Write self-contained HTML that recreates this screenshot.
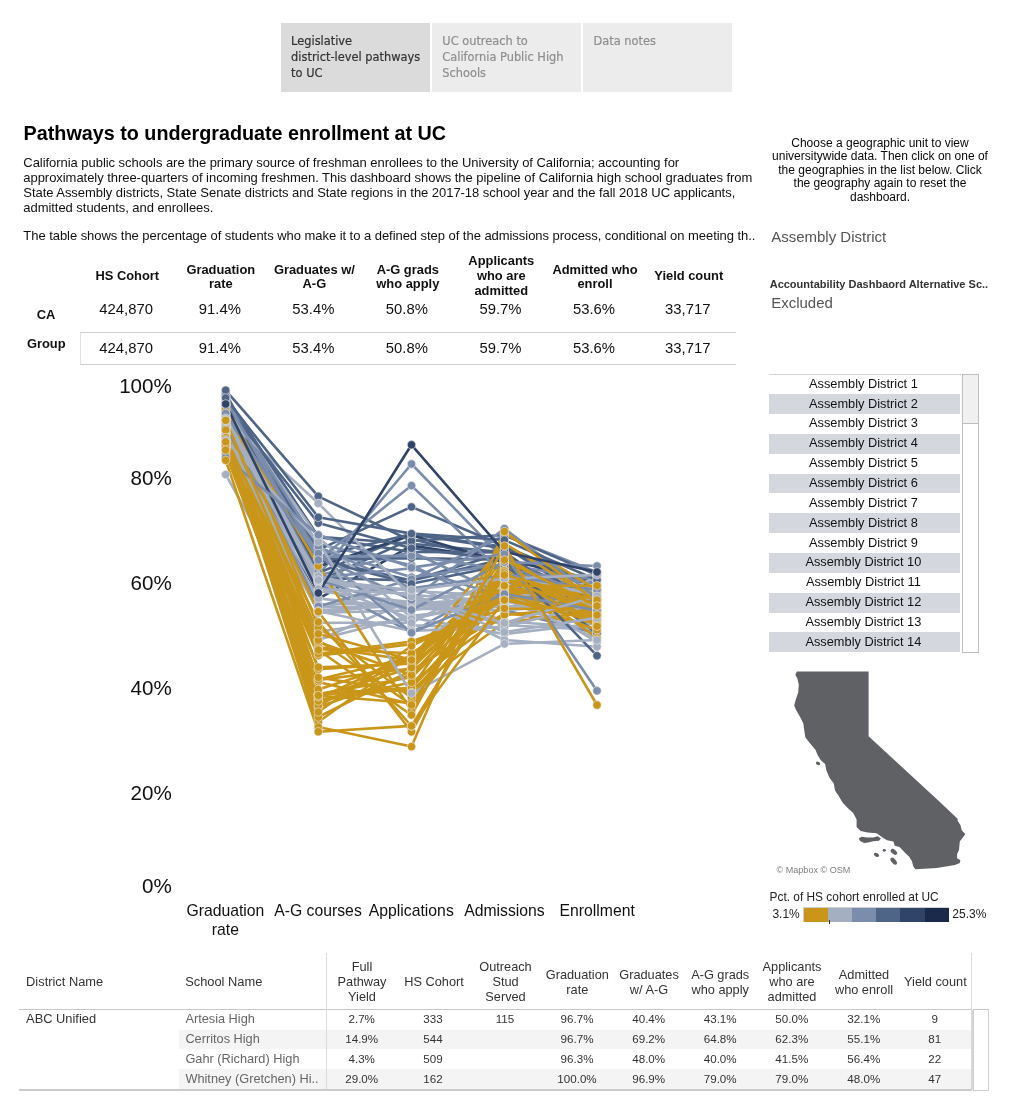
<!DOCTYPE html><html><head><meta charset="utf-8"><title>Pathways to undergraduate enrollment at UC</title><style>
html,body{margin:0;padding:0;background:#fff}
body{width:1011px;height:1116px;position:relative;overflow:hidden;font-family:"Liberation Sans",sans-serif;color:#000}
.a{position:absolute;white-space:nowrap}
</style></head><body>
<div class="a" style="left:281.30px;top:22.80px;width:148.40px;height:69.20px;background:#dbdbdb;"></div>
<div class="a" style="left:432.20px;top:22.80px;width:148.60px;height:69.20px;background:#ececec;"></div>
<div class="a" style="left:583.20px;top:22.80px;width:148.60px;height:69.20px;background:#ececec;"></div>
<div class="a" style="top:33.06px;font-size:11.4px;line-height:16px;color:#333;font-family:'DejaVu Sans','Liberation Sans',sans-serif;left:291.10px;-webkit-text-stroke:0.2px #333;">Legislative</div>
<div class="a" style="top:49.06px;font-size:11.4px;line-height:16px;color:#333;font-family:'DejaVu Sans','Liberation Sans',sans-serif;left:291.10px;-webkit-text-stroke:0.2px #333;">district-level pathways</div>
<div class="a" style="top:65.06px;font-size:11.4px;line-height:16px;color:#333;font-family:'DejaVu Sans','Liberation Sans',sans-serif;left:291.10px;-webkit-text-stroke:0.2px #333;">to UC</div>
<div class="a" style="top:33.06px;font-size:11.4px;line-height:16px;color:#8e8e8e;font-family:'DejaVu Sans','Liberation Sans',sans-serif;left:442.30px;-webkit-text-stroke:0.2px #8e8e8e;">UC outreach to</div>
<div class="a" style="top:49.06px;font-size:11.4px;line-height:16px;color:#8e8e8e;font-family:'DejaVu Sans','Liberation Sans',sans-serif;left:442.30px;-webkit-text-stroke:0.2px #8e8e8e;">California Public High</div>
<div class="a" style="top:65.06px;font-size:11.4px;line-height:16px;color:#8e8e8e;font-family:'DejaVu Sans','Liberation Sans',sans-serif;left:442.30px;-webkit-text-stroke:0.2px #8e8e8e;">Schools</div>
<div class="a" style="top:33.06px;font-size:11.4px;line-height:16px;color:#8e8e8e;font-family:'DejaVu Sans','Liberation Sans',sans-serif;left:593.50px;-webkit-text-stroke:0.2px #8e8e8e;">Data notes</div>
<div class="a" style="top:120.86px;font-size:19.75px;line-height:24px;color:#000;font-weight:bold;left:23.60px;">Pathways to undergraduate enrollment at UC</div>
<div class="a" style="top:154.80px;font-size:13px;line-height:15px;color:#111;letter-spacing:-0.045px;left:23.30px;">California public schools are the primary source of freshman enrollees to the University of California; accounting for</div>
<div class="a" style="top:169.80px;font-size:13px;line-height:15px;color:#111;letter-spacing:-0.045px;left:23.30px;">approximately three-quarters of incoming freshmen. This dashboard shows the pipeline of California high school graduates from</div>
<div class="a" style="top:184.80px;font-size:13px;line-height:15px;color:#111;letter-spacing:-0.045px;left:23.30px;">State Assembly districts, State Senate districts and State regions in the 2017-18 school year and the fall 2018 UC applicants,</div>
<div class="a" style="top:199.80px;font-size:13px;line-height:15px;color:#111;letter-spacing:-0.045px;left:23.30px;">admitted students, and enrollees.</div>
<div class="a" style="top:227.60px;font-size:13px;line-height:15px;color:#111;letter-spacing:-0.045px;left:23.30px;">The table shows the percentage of students who make it to a defined step of the admissions process, conditional on meeting th..</div>
<div class="a" style="top:135.54px;font-size:12px;line-height:14px;color:#080808;left:730.00px;width:300px;text-align:center;">Choose a geographic unit to view</div>
<div class="a" style="top:149.04px;font-size:12px;line-height:14px;color:#080808;left:730.00px;width:300px;text-align:center;">universitywide data. Then click on one of</div>
<div class="a" style="top:162.54px;font-size:12px;line-height:14px;color:#080808;left:730.00px;width:300px;text-align:center;">the geographies in the list below. Click</div>
<div class="a" style="top:176.04px;font-size:12px;line-height:14px;color:#080808;left:730.00px;width:300px;text-align:center;">the geography again to reset the</div>
<div class="a" style="top:189.54px;font-size:12px;line-height:14px;color:#080808;left:730.00px;width:300px;text-align:center;">dashboard.</div>
<div class="a" style="top:228.10px;font-size:15px;line-height:18px;color:#555;left:771.20px;">Assembly District</div>
<div class="a" style="top:277.19px;font-size:11px;line-height:14px;color:#333;font-weight:bold;left:769.70px;">Accountability Dashbaord Alternative Sc..</div>
<div class="a" style="top:294.10px;font-size:15px;line-height:18px;color:#555;left:771.20px;">Excluded</div>
<div class="a" style="top:268.43px;font-size:12.9px;line-height:15px;color:#111;font-weight:bold;left:57.30px;width:140px;text-align:center;">HS Cohort</div>
<div class="a" style="top:261.53px;font-size:12.9px;line-height:15px;color:#111;font-weight:bold;left:150.80px;width:140px;text-align:center;">Graduation</div>
<div class="a" style="top:276.38px;font-size:12.9px;line-height:15px;color:#111;font-weight:bold;left:150.80px;width:140px;text-align:center;">rate</div>
<div class="a" style="top:261.53px;font-size:12.9px;line-height:15px;color:#111;font-weight:bold;left:244.40px;width:140px;text-align:center;">Graduates w/</div>
<div class="a" style="top:276.38px;font-size:12.9px;line-height:15px;color:#111;font-weight:bold;left:244.40px;width:140px;text-align:center;">A-G</div>
<div class="a" style="top:261.53px;font-size:12.9px;line-height:15px;color:#111;font-weight:bold;left:337.80px;width:140px;text-align:center;">A-G grads</div>
<div class="a" style="top:276.38px;font-size:12.9px;line-height:15px;color:#111;font-weight:bold;left:337.80px;width:140px;text-align:center;">who apply</div>
<div class="a" style="top:252.83px;font-size:12.9px;line-height:15px;color:#111;font-weight:bold;left:431.30px;width:140px;text-align:center;">Applicants</div>
<div class="a" style="top:267.68px;font-size:12.9px;line-height:15px;color:#111;font-weight:bold;left:431.30px;width:140px;text-align:center;">who are</div>
<div class="a" style="top:282.53px;font-size:12.9px;line-height:15px;color:#111;font-weight:bold;left:431.30px;width:140px;text-align:center;">admitted</div>
<div class="a" style="top:261.53px;font-size:12.9px;line-height:15px;color:#111;font-weight:bold;left:525.00px;width:140px;text-align:center;">Admitted who</div>
<div class="a" style="top:276.38px;font-size:12.9px;line-height:15px;color:#111;font-weight:bold;left:525.00px;width:140px;text-align:center;">enroll</div>
<div class="a" style="top:268.43px;font-size:12.9px;line-height:15px;color:#111;font-weight:bold;left:618.80px;width:140px;text-align:center;">Yield count</div>
<div class="a" style="top:299.65px;font-size:14.85px;line-height:18px;color:#111;left:66.20px;width:120px;text-align:center;">424,870</div>
<div class="a" style="top:338.95px;font-size:14.85px;line-height:18px;color:#111;left:66.20px;width:120px;text-align:center;">424,870</div>
<div class="a" style="top:299.65px;font-size:14.85px;line-height:18px;color:#111;left:159.80px;width:120px;text-align:center;">91.4%</div>
<div class="a" style="top:338.95px;font-size:14.85px;line-height:18px;color:#111;left:159.80px;width:120px;text-align:center;">91.4%</div>
<div class="a" style="top:299.65px;font-size:14.85px;line-height:18px;color:#111;left:253.30px;width:120px;text-align:center;">53.4%</div>
<div class="a" style="top:338.95px;font-size:14.85px;line-height:18px;color:#111;left:253.30px;width:120px;text-align:center;">53.4%</div>
<div class="a" style="top:299.65px;font-size:14.85px;line-height:18px;color:#111;left:346.90px;width:120px;text-align:center;">50.8%</div>
<div class="a" style="top:338.95px;font-size:14.85px;line-height:18px;color:#111;left:346.90px;width:120px;text-align:center;">50.8%</div>
<div class="a" style="top:299.65px;font-size:14.85px;line-height:18px;color:#111;left:440.50px;width:120px;text-align:center;">59.7%</div>
<div class="a" style="top:338.95px;font-size:14.85px;line-height:18px;color:#111;left:440.50px;width:120px;text-align:center;">59.7%</div>
<div class="a" style="top:299.65px;font-size:14.85px;line-height:18px;color:#111;left:534.00px;width:120px;text-align:center;">53.6%</div>
<div class="a" style="top:338.95px;font-size:14.85px;line-height:18px;color:#111;left:534.00px;width:120px;text-align:center;">53.6%</div>
<div class="a" style="top:299.65px;font-size:14.85px;line-height:18px;color:#111;left:627.80px;width:120px;text-align:center;">33,717</div>
<div class="a" style="top:338.95px;font-size:14.85px;line-height:18px;color:#111;left:627.80px;width:120px;text-align:center;">33,717</div>
<div class="a" style="top:307.23px;font-size:12.9px;line-height:15px;color:#111;font-weight:bold;left:6.00px;width:80px;text-align:center;">CA</div>
<div class="a" style="top:336.33px;font-size:12.9px;line-height:15px;color:#111;font-weight:bold;left:6.30px;width:80px;text-align:center;">Group</div>
<div class="a" style="left:80.00px;top:332.00px;width:656.00px;height:33.00px;border:1px solid #cfcfcf;border-left-color:#e2e2e2;border-right:none;box-sizing:border-box;"></div>
<svg class="a" style="left:0;top:0" width="760" height="960" viewBox="0 0 760 960"><g fill="none" stroke-width="2.6" stroke-linejoin="round">
<polyline points="225.7,474.6 318.3,640.0 411.5,600.0 504.4,625.0 597.0,630.0" stroke="#A5AFC2"/>
<polyline points="225.7,395.2 318.3,556.5 411.5,533.9 504.4,546.7 597.0,604.9" stroke="#4F6588"/>
<polyline points="225.7,426.5 318.3,581.2 411.5,539.1 504.4,561.7 597.0,615.1" stroke="#4F6588"/>
<polyline points="225.7,422.4 318.3,598.8 411.5,545.6 504.4,559.7 597.0,580.0" stroke="#2F4468"/>
<polyline points="225.7,399.0 318.3,577.9 411.5,580.5 504.4,559.0 597.0,597.1" stroke="#4F6588"/>
<polyline points="225.7,413.2 318.3,559.3 411.5,580.4 504.4,552.4 597.0,633.9" stroke="#4F6588"/>
<polyline points="225.7,397.4 318.3,536.7 411.5,543.7 504.4,552.3 597.0,615.0" stroke="#4F6588"/>
<polyline points="225.7,424.7 318.3,548.2 411.5,577.3 504.4,564.2 597.0,580.3" stroke="#7B8DAC"/>
<polyline points="225.7,395.9 318.3,536.9 411.5,552.0 504.4,552.4 597.0,616.9" stroke="#4F6588"/>
<polyline points="225.7,418.9 318.3,612.7 411.5,610.4 504.4,596.4 597.0,599.9" stroke="#A5AFC2"/>
<polyline points="225.7,405.0 318.3,544.1 411.5,565.2 504.4,609.9 597.0,633.5" stroke="#7B8DAC"/>
<polyline points="225.7,404.2 318.3,639.5 411.5,615.9 504.4,606.0 597.0,608.7" stroke="#A5AFC2"/>
<polyline points="225.7,402.3 318.3,613.1 411.5,601.0 504.4,589.6 597.0,589.3" stroke="#A5AFC2"/>
<polyline points="225.7,433.7 318.3,583.5 411.5,632.4 504.4,579.9 597.0,626.4" stroke="#7B8DAC"/>
<polyline points="225.7,440.3 318.3,591.1 411.5,602.4 504.4,585.5 597.0,642.1" stroke="#A5AFC2"/>
<polyline points="225.7,415.0 318.3,575.0 411.5,464.0 504.4,560.0 597.0,600.0" stroke="#7B8DAC"/>
<polyline points="225.7,392.7 318.3,573.0 411.5,534.3 504.4,548.5 597.0,589.2" stroke="#4F6588"/>
<polyline points="225.7,410.4 318.3,566.5 411.5,535.2 504.4,562.6 597.0,602.4" stroke="#2F4468"/>
<polyline points="225.7,396.3 318.3,549.9 411.5,506.9 504.4,546.3 597.0,585.0" stroke="#4F6588"/>
<polyline points="225.7,448.7 318.3,694.0 411.5,687.8 504.4,556.1 597.0,612.6" stroke="#C9961A"/>
<polyline points="225.7,428.4 318.3,610.7 411.5,602.6 504.4,603.3 597.0,590.5" stroke="#A5AFC2"/>
<polyline points="225.7,436.9 318.3,611.8 411.5,604.2 504.4,600.7 597.0,586.2" stroke="#A5AFC2"/>
<polyline points="225.7,442.7 318.3,607.2 411.5,606.6 504.4,599.5 597.0,604.7" stroke="#A5AFC2"/>
<polyline points="225.7,404.9 318.3,575.4 411.5,551.7 504.4,595.3 597.0,575.0" stroke="#7B8DAC"/>
<polyline points="225.7,414.4 318.3,682.0 411.5,704.1 504.4,592.3 597.0,615.3" stroke="#C9961A"/>
<polyline points="225.7,434.1 318.3,608.6 411.5,586.3 504.4,621.3 597.0,628.1" stroke="#A5AFC2"/>
<polyline points="225.7,450.5 318.3,679.4 411.5,657.0 504.4,571.1 597.0,618.9" stroke="#C9961A"/>
<polyline points="225.7,426.8 318.3,559.1 411.5,558.1 504.4,559.8 597.0,616.5" stroke="#4F6588"/>
<polyline points="225.7,421.8 318.3,556.6 411.5,555.9 504.4,569.2 597.0,583.6" stroke="#7B8DAC"/>
<polyline points="225.7,428.0 318.3,707.1 411.5,674.5 504.4,577.7 597.0,615.1" stroke="#C9961A"/>
<polyline points="225.7,435.0 318.3,722.0 411.5,655.0 504.4,590.0 597.0,612.0" stroke="#C9961A"/>
<polyline points="225.7,427.3 318.3,717.0 411.5,670.3 504.4,613.4 597.0,623.2" stroke="#C9961A"/>
<polyline points="225.7,447.0 318.3,655.6 411.5,644.1 504.4,598.2 597.0,618.4" stroke="#C9961A"/>
<polyline points="225.7,443.9 318.3,694.4 411.5,689.8 504.4,622.5 597.0,611.4" stroke="#C9961A"/>
<polyline points="225.7,426.5 318.3,699.6 411.5,688.0 504.4,588.7 597.0,593.4" stroke="#C9961A"/>
<polyline points="225.7,439.5 318.3,694.1 411.5,677.2 504.4,588.0 597.0,606.9" stroke="#C9961A"/>
<polyline points="225.7,441.6 318.3,631.7 411.5,618.4 504.4,597.8 597.0,600.3" stroke="#A5AFC2"/>
<polyline points="225.7,420.2 318.3,669.3 411.5,663.2 504.4,570.0 597.0,605.7" stroke="#C9961A"/>
<polyline points="225.7,441.4 318.3,604.3 411.5,603.7 504.4,597.2 597.0,608.7" stroke="#A5AFC2"/>
<polyline points="225.7,405.8 318.3,537.6 411.5,617.7 504.4,634.1 597.0,623.3" stroke="#A5AFC2"/>
<polyline points="225.7,446.5 318.3,582.1 411.5,619.0 504.4,599.2 597.0,638.5" stroke="#A5AFC2"/>
<polyline points="225.7,439.2 318.3,598.4 411.5,608.6 504.4,610.3 597.0,604.1" stroke="#A5AFC2"/>
<polyline points="225.7,404.6 318.3,579.7 411.5,591.0 504.4,596.0 597.0,590.3" stroke="#A5AFC2"/>
<polyline points="225.7,443.9 318.3,581.6 411.5,595.0 504.4,601.2 597.0,598.2" stroke="#A5AFC2"/>
<polyline points="225.7,419.5 318.3,606.4 411.5,579.3 504.4,535.5 597.0,572.2" stroke="#7B8DAC"/>
<polyline points="225.7,420.8 318.3,555.9 411.5,625.4 504.4,627.9 597.0,575.7" stroke="#A5AFC2"/>
<polyline points="225.7,390.3 318.3,496.3 411.5,541.0 504.4,535.0 597.0,575.0" stroke="#4F6588"/>
<polyline points="225.7,448.5 318.3,705.5 411.5,657.1 504.4,578.4 597.0,613.3" stroke="#C9961A"/>
<polyline points="225.7,399.6 318.3,546.6 411.5,588.3 504.4,575.2 597.0,575.7" stroke="#7B8DAC"/>
<polyline points="225.7,410.0 318.3,560.0 411.5,583.8 504.4,565.0 597.0,633.0" stroke="#4F6588"/>
<polyline points="225.7,445.1 318.3,667.2 411.5,663.8 504.4,590.8 597.0,619.6" stroke="#C9961A"/>
<polyline points="225.7,440.2 318.3,698.5 411.5,655.2 504.4,596.4 597.0,630.0" stroke="#C9961A"/>
<polyline points="225.7,413.4 318.3,679.9 411.5,668.5 504.4,577.4 597.0,602.6" stroke="#C9961A"/>
<polyline points="225.7,423.4 318.3,689.5 411.5,659.4 504.4,543.2 597.0,601.3" stroke="#C9961A"/>
<polyline points="225.7,409.0 318.3,565.8 411.5,711.0 504.4,533.0 597.0,590.0" stroke="#C9961A"/>
<polyline points="225.7,440.0 318.3,577.6 411.5,568.3 504.4,597.1 597.0,599.9" stroke="#7B8DAC"/>
<polyline points="225.7,418.3 318.3,701.0 411.5,682.4 504.4,614.9 597.0,606.7" stroke="#C9961A"/>
<polyline points="225.7,418.0 318.3,503.3 411.5,596.0 504.4,640.0 597.0,646.8" stroke="#A5AFC2"/>
<polyline points="225.7,449.6 318.3,677.4 411.5,692.6 504.4,592.7 597.0,592.7" stroke="#C9961A"/>
<polyline points="225.7,427.8 318.3,647.0 411.5,660.3 504.4,586.4 597.0,603.5" stroke="#C9961A"/>
<polyline points="225.7,425.0 318.3,653.7 411.5,641.5 504.4,608.4 597.0,610.0" stroke="#C9961A"/>
<polyline points="225.7,445.9 318.3,610.9 411.5,630.9 504.4,626.8 597.0,603.9" stroke="#A5AFC2"/>
<polyline points="225.7,432.9 318.3,649.2 411.5,653.3 504.4,593.4 597.0,623.2" stroke="#C9961A"/>
<polyline points="225.7,416.2 318.3,642.0 411.5,675.1 504.4,573.3 597.0,609.9" stroke="#C9961A"/>
<polyline points="225.7,432.2 318.3,622.6 411.5,622.8 504.4,573.9 597.0,595.4" stroke="#A5AFC2"/>
<polyline points="225.7,416.5 318.3,611.7 411.5,731.8 504.4,563.0 597.0,625.0" stroke="#C9961A"/>
<polyline points="225.7,402.7 318.3,627.3 411.5,697.7 504.4,571.0 597.0,638.0" stroke="#C9961A"/>
<polyline points="225.7,405.0 318.3,523.1 411.5,548.3 504.4,560.0 597.0,655.7" stroke="#4F6588"/>
<polyline points="225.7,453.9 318.3,696.8 411.5,667.7 504.4,580.0 597.0,611.1" stroke="#C9961A"/>
<polyline points="225.7,430.0 318.3,556.9 411.5,600.0 504.4,528.6 597.0,598.0" stroke="#7B8DAC"/>
<polyline points="225.7,413.4 318.3,553.5 411.5,632.7 504.4,593.9 597.0,610.4" stroke="#7B8DAC"/>
<polyline points="225.7,428.0 318.3,580.0 411.5,610.0 504.4,562.0 597.0,566.0" stroke="#7B8DAC"/>
<polyline points="225.7,400.0 318.3,560.0 411.5,485.6 504.4,575.0 597.0,590.0" stroke="#7B8DAC"/>
<polyline points="225.7,430.0 318.3,712.0 411.5,646.0 504.4,600.0 597.0,620.0" stroke="#C9961A"/>
<polyline points="225.7,446.8 318.3,695.5 411.5,703.0 504.4,572.9 597.0,626.2" stroke="#C9961A"/>
<polyline points="225.7,421.7 318.3,589.1 411.5,593.9 504.4,632.0 597.0,617.9" stroke="#A5AFC2"/>
<polyline points="225.7,398.0 318.3,517.3 411.5,533.6 504.4,540.0 597.0,580.0" stroke="#4F6588"/>
<polyline points="225.7,437.6 318.3,727.0 411.5,746.6 504.4,531.5 597.0,602.0" stroke="#C9961A"/>
<polyline points="225.7,440.0 318.3,541.8 411.5,693.3 504.4,643.9 597.0,640.0" stroke="#A5AFC2"/>
<polyline points="225.7,418.2 318.3,576.2 411.5,596.5 504.4,622.9 597.0,596.2" stroke="#A5AFC2"/>
<polyline points="225.7,420.0 318.3,580.0 411.5,590.0 504.4,578.8 597.0,574.9" stroke="#A5AFC2"/>
<polyline points="225.7,404.0 318.3,593.0 411.5,444.8 504.4,552.0 597.0,572.0" stroke="#2F4468"/>
<polyline points="225.7,457.3 318.3,534.8 411.5,567.6 504.4,554.0 597.0,690.8" stroke="#7B8DAC"/>
<polyline points="225.7,445.5 318.3,650.0 411.5,715.0 504.4,546.0 597.0,705.0" stroke="#C9961A"/>
<polyline points="225.7,442.0 318.3,622.0 411.5,726.0 504.4,575.0 597.0,600.0" stroke="#C9961A"/>
<polyline points="225.7,460.3 318.3,731.7 411.5,725.9 504.4,600.0 597.0,615.0" stroke="#C9961A"/>
<polyline points="225.7,450.0 318.3,640.0 411.5,705.0 504.4,560.0 597.0,606.0" stroke="#C9961A"/>
<polyline points="225.7,420.4 318.3,633.8 411.5,660.0 504.4,585.7 597.0,585.7" stroke="#C9961A"/>
</g>
<g stroke="#ebe8e2" stroke-opacity=".8" stroke-width="0.8">
<g fill="#A5AFC2"><circle cx="225.7" cy="474.6" r="4.2"/><circle cx="318.3" cy="640.0" r="4.2"/><circle cx="411.5" cy="600.0" r="4.2"/><circle cx="504.4" cy="625.0" r="4.2"/><circle cx="597.0" cy="630.0" r="4.2"/></g>
<g fill="#4F6588"><circle cx="225.7" cy="395.2" r="4.2"/><circle cx="318.3" cy="556.5" r="4.2"/><circle cx="411.5" cy="533.9" r="4.2"/><circle cx="504.4" cy="546.7" r="4.2"/><circle cx="597.0" cy="604.9" r="4.2"/></g>
<g fill="#4F6588"><circle cx="225.7" cy="426.5" r="4.2"/><circle cx="318.3" cy="581.2" r="4.2"/><circle cx="411.5" cy="539.1" r="4.2"/><circle cx="504.4" cy="561.7" r="4.2"/><circle cx="597.0" cy="615.1" r="4.2"/></g>
<g fill="#2F4468"><circle cx="225.7" cy="422.4" r="4.2"/><circle cx="318.3" cy="598.8" r="4.2"/><circle cx="411.5" cy="545.6" r="4.2"/><circle cx="504.4" cy="559.7" r="4.2"/><circle cx="597.0" cy="580.0" r="4.2"/></g>
<g fill="#4F6588"><circle cx="225.7" cy="399.0" r="4.2"/><circle cx="318.3" cy="577.9" r="4.2"/><circle cx="411.5" cy="580.5" r="4.2"/><circle cx="504.4" cy="559.0" r="4.2"/><circle cx="597.0" cy="597.1" r="4.2"/></g>
<g fill="#4F6588"><circle cx="225.7" cy="413.2" r="4.2"/><circle cx="318.3" cy="559.3" r="4.2"/><circle cx="411.5" cy="580.4" r="4.2"/><circle cx="504.4" cy="552.4" r="4.2"/><circle cx="597.0" cy="633.9" r="4.2"/></g>
<g fill="#4F6588"><circle cx="225.7" cy="397.4" r="4.2"/><circle cx="318.3" cy="536.7" r="4.2"/><circle cx="411.5" cy="543.7" r="4.2"/><circle cx="504.4" cy="552.3" r="4.2"/><circle cx="597.0" cy="615.0" r="4.2"/></g>
<g fill="#7B8DAC"><circle cx="225.7" cy="424.7" r="4.2"/><circle cx="318.3" cy="548.2" r="4.2"/><circle cx="411.5" cy="577.3" r="4.2"/><circle cx="504.4" cy="564.2" r="4.2"/><circle cx="597.0" cy="580.3" r="4.2"/></g>
<g fill="#4F6588"><circle cx="225.7" cy="395.9" r="4.2"/><circle cx="318.3" cy="536.9" r="4.2"/><circle cx="411.5" cy="552.0" r="4.2"/><circle cx="504.4" cy="552.4" r="4.2"/><circle cx="597.0" cy="616.9" r="4.2"/></g>
<g fill="#A5AFC2"><circle cx="225.7" cy="418.9" r="4.2"/><circle cx="318.3" cy="612.7" r="4.2"/><circle cx="411.5" cy="610.4" r="4.2"/><circle cx="504.4" cy="596.4" r="4.2"/><circle cx="597.0" cy="599.9" r="4.2"/></g>
<g fill="#7B8DAC"><circle cx="225.7" cy="405.0" r="4.2"/><circle cx="318.3" cy="544.1" r="4.2"/><circle cx="411.5" cy="565.2" r="4.2"/><circle cx="504.4" cy="609.9" r="4.2"/><circle cx="597.0" cy="633.5" r="4.2"/></g>
<g fill="#A5AFC2"><circle cx="225.7" cy="404.2" r="4.2"/><circle cx="318.3" cy="639.5" r="4.2"/><circle cx="411.5" cy="615.9" r="4.2"/><circle cx="504.4" cy="606.0" r="4.2"/><circle cx="597.0" cy="608.7" r="4.2"/></g>
<g fill="#A5AFC2"><circle cx="225.7" cy="402.3" r="4.2"/><circle cx="318.3" cy="613.1" r="4.2"/><circle cx="411.5" cy="601.0" r="4.2"/><circle cx="504.4" cy="589.6" r="4.2"/><circle cx="597.0" cy="589.3" r="4.2"/></g>
<g fill="#7B8DAC"><circle cx="225.7" cy="433.7" r="4.2"/><circle cx="318.3" cy="583.5" r="4.2"/><circle cx="411.5" cy="632.4" r="4.2"/><circle cx="504.4" cy="579.9" r="4.2"/><circle cx="597.0" cy="626.4" r="4.2"/></g>
<g fill="#A5AFC2"><circle cx="225.7" cy="440.3" r="4.2"/><circle cx="318.3" cy="591.1" r="4.2"/><circle cx="411.5" cy="602.4" r="4.2"/><circle cx="504.4" cy="585.5" r="4.2"/><circle cx="597.0" cy="642.1" r="4.2"/></g>
<g fill="#7B8DAC"><circle cx="225.7" cy="415.0" r="4.2"/><circle cx="318.3" cy="575.0" r="4.2"/><circle cx="411.5" cy="464.0" r="4.2"/><circle cx="504.4" cy="560.0" r="4.2"/><circle cx="597.0" cy="600.0" r="4.2"/></g>
<g fill="#4F6588"><circle cx="225.7" cy="392.7" r="4.2"/><circle cx="318.3" cy="573.0" r="4.2"/><circle cx="411.5" cy="534.3" r="4.2"/><circle cx="504.4" cy="548.5" r="4.2"/><circle cx="597.0" cy="589.2" r="4.2"/></g>
<g fill="#2F4468"><circle cx="225.7" cy="410.4" r="4.2"/><circle cx="318.3" cy="566.5" r="4.2"/><circle cx="411.5" cy="535.2" r="4.2"/><circle cx="504.4" cy="562.6" r="4.2"/><circle cx="597.0" cy="602.4" r="4.2"/></g>
<g fill="#4F6588"><circle cx="225.7" cy="396.3" r="4.2"/><circle cx="318.3" cy="549.9" r="4.2"/><circle cx="411.5" cy="506.9" r="4.2"/><circle cx="504.4" cy="546.3" r="4.2"/><circle cx="597.0" cy="585.0" r="4.2"/></g>
<g fill="#C9961A"><circle cx="225.7" cy="448.7" r="4.2"/><circle cx="318.3" cy="694.0" r="4.2"/><circle cx="411.5" cy="687.8" r="4.2"/><circle cx="504.4" cy="556.1" r="4.2"/><circle cx="597.0" cy="612.6" r="4.2"/></g>
<g fill="#A5AFC2"><circle cx="225.7" cy="428.4" r="4.2"/><circle cx="318.3" cy="610.7" r="4.2"/><circle cx="411.5" cy="602.6" r="4.2"/><circle cx="504.4" cy="603.3" r="4.2"/><circle cx="597.0" cy="590.5" r="4.2"/></g>
<g fill="#A5AFC2"><circle cx="225.7" cy="436.9" r="4.2"/><circle cx="318.3" cy="611.8" r="4.2"/><circle cx="411.5" cy="604.2" r="4.2"/><circle cx="504.4" cy="600.7" r="4.2"/><circle cx="597.0" cy="586.2" r="4.2"/></g>
<g fill="#A5AFC2"><circle cx="225.7" cy="442.7" r="4.2"/><circle cx="318.3" cy="607.2" r="4.2"/><circle cx="411.5" cy="606.6" r="4.2"/><circle cx="504.4" cy="599.5" r="4.2"/><circle cx="597.0" cy="604.7" r="4.2"/></g>
<g fill="#7B8DAC"><circle cx="225.7" cy="404.9" r="4.2"/><circle cx="318.3" cy="575.4" r="4.2"/><circle cx="411.5" cy="551.7" r="4.2"/><circle cx="504.4" cy="595.3" r="4.2"/><circle cx="597.0" cy="575.0" r="4.2"/></g>
<g fill="#C9961A"><circle cx="225.7" cy="414.4" r="4.2"/><circle cx="318.3" cy="682.0" r="4.2"/><circle cx="411.5" cy="704.1" r="4.2"/><circle cx="504.4" cy="592.3" r="4.2"/><circle cx="597.0" cy="615.3" r="4.2"/></g>
<g fill="#A5AFC2"><circle cx="225.7" cy="434.1" r="4.2"/><circle cx="318.3" cy="608.6" r="4.2"/><circle cx="411.5" cy="586.3" r="4.2"/><circle cx="504.4" cy="621.3" r="4.2"/><circle cx="597.0" cy="628.1" r="4.2"/></g>
<g fill="#C9961A"><circle cx="225.7" cy="450.5" r="4.2"/><circle cx="318.3" cy="679.4" r="4.2"/><circle cx="411.5" cy="657.0" r="4.2"/><circle cx="504.4" cy="571.1" r="4.2"/><circle cx="597.0" cy="618.9" r="4.2"/></g>
<g fill="#4F6588"><circle cx="225.7" cy="426.8" r="4.2"/><circle cx="318.3" cy="559.1" r="4.2"/><circle cx="411.5" cy="558.1" r="4.2"/><circle cx="504.4" cy="559.8" r="4.2"/><circle cx="597.0" cy="616.5" r="4.2"/></g>
<g fill="#7B8DAC"><circle cx="225.7" cy="421.8" r="4.2"/><circle cx="318.3" cy="556.6" r="4.2"/><circle cx="411.5" cy="555.9" r="4.2"/><circle cx="504.4" cy="569.2" r="4.2"/><circle cx="597.0" cy="583.6" r="4.2"/></g>
<g fill="#C9961A"><circle cx="225.7" cy="428.0" r="4.2"/><circle cx="318.3" cy="707.1" r="4.2"/><circle cx="411.5" cy="674.5" r="4.2"/><circle cx="504.4" cy="577.7" r="4.2"/><circle cx="597.0" cy="615.1" r="4.2"/></g>
<g fill="#C9961A"><circle cx="225.7" cy="435.0" r="4.2"/><circle cx="318.3" cy="722.0" r="4.2"/><circle cx="411.5" cy="655.0" r="4.2"/><circle cx="504.4" cy="590.0" r="4.2"/><circle cx="597.0" cy="612.0" r="4.2"/></g>
<g fill="#C9961A"><circle cx="225.7" cy="427.3" r="4.2"/><circle cx="318.3" cy="717.0" r="4.2"/><circle cx="411.5" cy="670.3" r="4.2"/><circle cx="504.4" cy="613.4" r="4.2"/><circle cx="597.0" cy="623.2" r="4.2"/></g>
<g fill="#C9961A"><circle cx="225.7" cy="447.0" r="4.2"/><circle cx="318.3" cy="655.6" r="4.2"/><circle cx="411.5" cy="644.1" r="4.2"/><circle cx="504.4" cy="598.2" r="4.2"/><circle cx="597.0" cy="618.4" r="4.2"/></g>
<g fill="#C9961A"><circle cx="225.7" cy="443.9" r="4.2"/><circle cx="318.3" cy="694.4" r="4.2"/><circle cx="411.5" cy="689.8" r="4.2"/><circle cx="504.4" cy="622.5" r="4.2"/><circle cx="597.0" cy="611.4" r="4.2"/></g>
<g fill="#C9961A"><circle cx="225.7" cy="426.5" r="4.2"/><circle cx="318.3" cy="699.6" r="4.2"/><circle cx="411.5" cy="688.0" r="4.2"/><circle cx="504.4" cy="588.7" r="4.2"/><circle cx="597.0" cy="593.4" r="4.2"/></g>
<g fill="#C9961A"><circle cx="225.7" cy="439.5" r="4.2"/><circle cx="318.3" cy="694.1" r="4.2"/><circle cx="411.5" cy="677.2" r="4.2"/><circle cx="504.4" cy="588.0" r="4.2"/><circle cx="597.0" cy="606.9" r="4.2"/></g>
<g fill="#A5AFC2"><circle cx="225.7" cy="441.6" r="4.2"/><circle cx="318.3" cy="631.7" r="4.2"/><circle cx="411.5" cy="618.4" r="4.2"/><circle cx="504.4" cy="597.8" r="4.2"/><circle cx="597.0" cy="600.3" r="4.2"/></g>
<g fill="#C9961A"><circle cx="225.7" cy="420.2" r="4.2"/><circle cx="318.3" cy="669.3" r="4.2"/><circle cx="411.5" cy="663.2" r="4.2"/><circle cx="504.4" cy="570.0" r="4.2"/><circle cx="597.0" cy="605.7" r="4.2"/></g>
<g fill="#A5AFC2"><circle cx="225.7" cy="441.4" r="4.2"/><circle cx="318.3" cy="604.3" r="4.2"/><circle cx="411.5" cy="603.7" r="4.2"/><circle cx="504.4" cy="597.2" r="4.2"/><circle cx="597.0" cy="608.7" r="4.2"/></g>
<g fill="#A5AFC2"><circle cx="225.7" cy="405.8" r="4.2"/><circle cx="318.3" cy="537.6" r="4.2"/><circle cx="411.5" cy="617.7" r="4.2"/><circle cx="504.4" cy="634.1" r="4.2"/><circle cx="597.0" cy="623.3" r="4.2"/></g>
<g fill="#A5AFC2"><circle cx="225.7" cy="446.5" r="4.2"/><circle cx="318.3" cy="582.1" r="4.2"/><circle cx="411.5" cy="619.0" r="4.2"/><circle cx="504.4" cy="599.2" r="4.2"/><circle cx="597.0" cy="638.5" r="4.2"/></g>
<g fill="#A5AFC2"><circle cx="225.7" cy="439.2" r="4.2"/><circle cx="318.3" cy="598.4" r="4.2"/><circle cx="411.5" cy="608.6" r="4.2"/><circle cx="504.4" cy="610.3" r="4.2"/><circle cx="597.0" cy="604.1" r="4.2"/></g>
<g fill="#A5AFC2"><circle cx="225.7" cy="404.6" r="4.2"/><circle cx="318.3" cy="579.7" r="4.2"/><circle cx="411.5" cy="591.0" r="4.2"/><circle cx="504.4" cy="596.0" r="4.2"/><circle cx="597.0" cy="590.3" r="4.2"/></g>
<g fill="#A5AFC2"><circle cx="225.7" cy="443.9" r="4.2"/><circle cx="318.3" cy="581.6" r="4.2"/><circle cx="411.5" cy="595.0" r="4.2"/><circle cx="504.4" cy="601.2" r="4.2"/><circle cx="597.0" cy="598.2" r="4.2"/></g>
<g fill="#7B8DAC"><circle cx="225.7" cy="419.5" r="4.2"/><circle cx="318.3" cy="606.4" r="4.2"/><circle cx="411.5" cy="579.3" r="4.2"/><circle cx="504.4" cy="535.5" r="4.2"/><circle cx="597.0" cy="572.2" r="4.2"/></g>
<g fill="#A5AFC2"><circle cx="225.7" cy="420.8" r="4.2"/><circle cx="318.3" cy="555.9" r="4.2"/><circle cx="411.5" cy="625.4" r="4.2"/><circle cx="504.4" cy="627.9" r="4.2"/><circle cx="597.0" cy="575.7" r="4.2"/></g>
<g fill="#4F6588"><circle cx="225.7" cy="390.3" r="4.2"/><circle cx="318.3" cy="496.3" r="4.2"/><circle cx="411.5" cy="541.0" r="4.2"/><circle cx="504.4" cy="535.0" r="4.2"/><circle cx="597.0" cy="575.0" r="4.2"/></g>
<g fill="#C9961A"><circle cx="225.7" cy="448.5" r="4.2"/><circle cx="318.3" cy="705.5" r="4.2"/><circle cx="411.5" cy="657.1" r="4.2"/><circle cx="504.4" cy="578.4" r="4.2"/><circle cx="597.0" cy="613.3" r="4.2"/></g>
<g fill="#7B8DAC"><circle cx="225.7" cy="399.6" r="4.2"/><circle cx="318.3" cy="546.6" r="4.2"/><circle cx="411.5" cy="588.3" r="4.2"/><circle cx="504.4" cy="575.2" r="4.2"/><circle cx="597.0" cy="575.7" r="4.2"/></g>
<g fill="#4F6588"><circle cx="225.7" cy="410.0" r="4.2"/><circle cx="318.3" cy="560.0" r="4.2"/><circle cx="411.5" cy="583.8" r="4.2"/><circle cx="504.4" cy="565.0" r="4.2"/><circle cx="597.0" cy="633.0" r="4.2"/></g>
<g fill="#C9961A"><circle cx="225.7" cy="445.1" r="4.2"/><circle cx="318.3" cy="667.2" r="4.2"/><circle cx="411.5" cy="663.8" r="4.2"/><circle cx="504.4" cy="590.8" r="4.2"/><circle cx="597.0" cy="619.6" r="4.2"/></g>
<g fill="#C9961A"><circle cx="225.7" cy="440.2" r="4.2"/><circle cx="318.3" cy="698.5" r="4.2"/><circle cx="411.5" cy="655.2" r="4.2"/><circle cx="504.4" cy="596.4" r="4.2"/><circle cx="597.0" cy="630.0" r="4.2"/></g>
<g fill="#C9961A"><circle cx="225.7" cy="413.4" r="4.2"/><circle cx="318.3" cy="679.9" r="4.2"/><circle cx="411.5" cy="668.5" r="4.2"/><circle cx="504.4" cy="577.4" r="4.2"/><circle cx="597.0" cy="602.6" r="4.2"/></g>
<g fill="#C9961A"><circle cx="225.7" cy="423.4" r="4.2"/><circle cx="318.3" cy="689.5" r="4.2"/><circle cx="411.5" cy="659.4" r="4.2"/><circle cx="504.4" cy="543.2" r="4.2"/><circle cx="597.0" cy="601.3" r="4.2"/></g>
<g fill="#C9961A"><circle cx="225.7" cy="409.0" r="4.2"/><circle cx="318.3" cy="565.8" r="4.2"/><circle cx="411.5" cy="711.0" r="4.2"/><circle cx="504.4" cy="533.0" r="4.2"/><circle cx="597.0" cy="590.0" r="4.2"/></g>
<g fill="#7B8DAC"><circle cx="225.7" cy="440.0" r="4.2"/><circle cx="318.3" cy="577.6" r="4.2"/><circle cx="411.5" cy="568.3" r="4.2"/><circle cx="504.4" cy="597.1" r="4.2"/><circle cx="597.0" cy="599.9" r="4.2"/></g>
<g fill="#C9961A"><circle cx="225.7" cy="418.3" r="4.2"/><circle cx="318.3" cy="701.0" r="4.2"/><circle cx="411.5" cy="682.4" r="4.2"/><circle cx="504.4" cy="614.9" r="4.2"/><circle cx="597.0" cy="606.7" r="4.2"/></g>
<g fill="#A5AFC2"><circle cx="225.7" cy="418.0" r="4.2"/><circle cx="318.3" cy="503.3" r="4.2"/><circle cx="411.5" cy="596.0" r="4.2"/><circle cx="504.4" cy="640.0" r="4.2"/><circle cx="597.0" cy="646.8" r="4.2"/></g>
<g fill="#C9961A"><circle cx="225.7" cy="449.6" r="4.2"/><circle cx="318.3" cy="677.4" r="4.2"/><circle cx="411.5" cy="692.6" r="4.2"/><circle cx="504.4" cy="592.7" r="4.2"/><circle cx="597.0" cy="592.7" r="4.2"/></g>
<g fill="#C9961A"><circle cx="225.7" cy="427.8" r="4.2"/><circle cx="318.3" cy="647.0" r="4.2"/><circle cx="411.5" cy="660.3" r="4.2"/><circle cx="504.4" cy="586.4" r="4.2"/><circle cx="597.0" cy="603.5" r="4.2"/></g>
<g fill="#C9961A"><circle cx="225.7" cy="425.0" r="4.2"/><circle cx="318.3" cy="653.7" r="4.2"/><circle cx="411.5" cy="641.5" r="4.2"/><circle cx="504.4" cy="608.4" r="4.2"/><circle cx="597.0" cy="610.0" r="4.2"/></g>
<g fill="#A5AFC2"><circle cx="225.7" cy="445.9" r="4.2"/><circle cx="318.3" cy="610.9" r="4.2"/><circle cx="411.5" cy="630.9" r="4.2"/><circle cx="504.4" cy="626.8" r="4.2"/><circle cx="597.0" cy="603.9" r="4.2"/></g>
<g fill="#C9961A"><circle cx="225.7" cy="432.9" r="4.2"/><circle cx="318.3" cy="649.2" r="4.2"/><circle cx="411.5" cy="653.3" r="4.2"/><circle cx="504.4" cy="593.4" r="4.2"/><circle cx="597.0" cy="623.2" r="4.2"/></g>
<g fill="#C9961A"><circle cx="225.7" cy="416.2" r="4.2"/><circle cx="318.3" cy="642.0" r="4.2"/><circle cx="411.5" cy="675.1" r="4.2"/><circle cx="504.4" cy="573.3" r="4.2"/><circle cx="597.0" cy="609.9" r="4.2"/></g>
<g fill="#A5AFC2"><circle cx="225.7" cy="432.2" r="4.2"/><circle cx="318.3" cy="622.6" r="4.2"/><circle cx="411.5" cy="622.8" r="4.2"/><circle cx="504.4" cy="573.9" r="4.2"/><circle cx="597.0" cy="595.4" r="4.2"/></g>
<g fill="#C9961A"><circle cx="225.7" cy="416.5" r="4.2"/><circle cx="318.3" cy="611.7" r="4.2"/><circle cx="411.5" cy="731.8" r="4.2"/><circle cx="504.4" cy="563.0" r="4.2"/><circle cx="597.0" cy="625.0" r="4.2"/></g>
<g fill="#C9961A"><circle cx="225.7" cy="402.7" r="4.2"/><circle cx="318.3" cy="627.3" r="4.2"/><circle cx="411.5" cy="697.7" r="4.2"/><circle cx="504.4" cy="571.0" r="4.2"/><circle cx="597.0" cy="638.0" r="4.2"/></g>
<g fill="#4F6588"><circle cx="225.7" cy="405.0" r="4.2"/><circle cx="318.3" cy="523.1" r="4.2"/><circle cx="411.5" cy="548.3" r="4.2"/><circle cx="504.4" cy="560.0" r="4.2"/><circle cx="597.0" cy="655.7" r="4.2"/></g>
<g fill="#C9961A"><circle cx="225.7" cy="453.9" r="4.2"/><circle cx="318.3" cy="696.8" r="4.2"/><circle cx="411.5" cy="667.7" r="4.2"/><circle cx="504.4" cy="580.0" r="4.2"/><circle cx="597.0" cy="611.1" r="4.2"/></g>
<g fill="#7B8DAC"><circle cx="225.7" cy="430.0" r="4.2"/><circle cx="318.3" cy="556.9" r="4.2"/><circle cx="411.5" cy="600.0" r="4.2"/><circle cx="504.4" cy="528.6" r="4.2"/><circle cx="597.0" cy="598.0" r="4.2"/></g>
<g fill="#7B8DAC"><circle cx="225.7" cy="413.4" r="4.2"/><circle cx="318.3" cy="553.5" r="4.2"/><circle cx="411.5" cy="632.7" r="4.2"/><circle cx="504.4" cy="593.9" r="4.2"/><circle cx="597.0" cy="610.4" r="4.2"/></g>
<g fill="#7B8DAC"><circle cx="225.7" cy="428.0" r="4.2"/><circle cx="318.3" cy="580.0" r="4.2"/><circle cx="411.5" cy="610.0" r="4.2"/><circle cx="504.4" cy="562.0" r="4.2"/><circle cx="597.0" cy="566.0" r="4.2"/></g>
<g fill="#7B8DAC"><circle cx="225.7" cy="400.0" r="4.2"/><circle cx="318.3" cy="560.0" r="4.2"/><circle cx="411.5" cy="485.6" r="4.2"/><circle cx="504.4" cy="575.0" r="4.2"/><circle cx="597.0" cy="590.0" r="4.2"/></g>
<g fill="#C9961A"><circle cx="225.7" cy="430.0" r="4.2"/><circle cx="318.3" cy="712.0" r="4.2"/><circle cx="411.5" cy="646.0" r="4.2"/><circle cx="504.4" cy="600.0" r="4.2"/><circle cx="597.0" cy="620.0" r="4.2"/></g>
<g fill="#C9961A"><circle cx="225.7" cy="446.8" r="4.2"/><circle cx="318.3" cy="695.5" r="4.2"/><circle cx="411.5" cy="703.0" r="4.2"/><circle cx="504.4" cy="572.9" r="4.2"/><circle cx="597.0" cy="626.2" r="4.2"/></g>
<g fill="#A5AFC2"><circle cx="225.7" cy="421.7" r="4.2"/><circle cx="318.3" cy="589.1" r="4.2"/><circle cx="411.5" cy="593.9" r="4.2"/><circle cx="504.4" cy="632.0" r="4.2"/><circle cx="597.0" cy="617.9" r="4.2"/></g>
<g fill="#4F6588"><circle cx="225.7" cy="398.0" r="4.2"/><circle cx="318.3" cy="517.3" r="4.2"/><circle cx="411.5" cy="533.6" r="4.2"/><circle cx="504.4" cy="540.0" r="4.2"/><circle cx="597.0" cy="580.0" r="4.2"/></g>
<g fill="#C9961A"><circle cx="225.7" cy="437.6" r="4.2"/><circle cx="318.3" cy="727.0" r="4.2"/><circle cx="411.5" cy="746.6" r="4.2"/><circle cx="504.4" cy="531.5" r="4.2"/><circle cx="597.0" cy="602.0" r="4.2"/></g>
<g fill="#A5AFC2"><circle cx="225.7" cy="440.0" r="4.2"/><circle cx="318.3" cy="541.8" r="4.2"/><circle cx="411.5" cy="693.3" r="4.2"/><circle cx="504.4" cy="643.9" r="4.2"/><circle cx="597.0" cy="640.0" r="4.2"/></g>
<g fill="#A5AFC2"><circle cx="225.7" cy="418.2" r="4.2"/><circle cx="318.3" cy="576.2" r="4.2"/><circle cx="411.5" cy="596.5" r="4.2"/><circle cx="504.4" cy="622.9" r="4.2"/><circle cx="597.0" cy="596.2" r="4.2"/></g>
<g fill="#A5AFC2"><circle cx="225.7" cy="420.0" r="4.2"/><circle cx="318.3" cy="580.0" r="4.2"/><circle cx="411.5" cy="590.0" r="4.2"/><circle cx="504.4" cy="578.8" r="4.2"/><circle cx="597.0" cy="574.9" r="4.2"/></g>
<g fill="#2F4468"><circle cx="225.7" cy="404.0" r="4.2"/><circle cx="318.3" cy="593.0" r="4.2"/><circle cx="411.5" cy="444.8" r="4.2"/><circle cx="504.4" cy="552.0" r="4.2"/><circle cx="597.0" cy="572.0" r="4.2"/></g>
<g fill="#7B8DAC"><circle cx="225.7" cy="457.3" r="4.2"/><circle cx="318.3" cy="534.8" r="4.2"/><circle cx="411.5" cy="567.6" r="4.2"/><circle cx="504.4" cy="554.0" r="4.2"/><circle cx="597.0" cy="690.8" r="4.2"/></g>
<g fill="#C9961A"><circle cx="225.7" cy="445.5" r="4.2"/><circle cx="318.3" cy="650.0" r="4.2"/><circle cx="411.5" cy="715.0" r="4.2"/><circle cx="504.4" cy="546.0" r="4.2"/><circle cx="597.0" cy="705.0" r="4.2"/></g>
<g fill="#C9961A"><circle cx="225.7" cy="442.0" r="4.2"/><circle cx="318.3" cy="622.0" r="4.2"/><circle cx="411.5" cy="726.0" r="4.2"/><circle cx="504.4" cy="575.0" r="4.2"/><circle cx="597.0" cy="600.0" r="4.2"/></g>
<g fill="#C9961A"><circle cx="225.7" cy="460.3" r="4.2"/><circle cx="318.3" cy="731.7" r="4.2"/><circle cx="411.5" cy="725.9" r="4.2"/><circle cx="504.4" cy="600.0" r="4.2"/><circle cx="597.0" cy="615.0" r="4.2"/></g>
<g fill="#C9961A"><circle cx="225.7" cy="450.0" r="4.2"/><circle cx="318.3" cy="640.0" r="4.2"/><circle cx="411.5" cy="705.0" r="4.2"/><circle cx="504.4" cy="560.0" r="4.2"/><circle cx="597.0" cy="606.0" r="4.2"/></g>
<g fill="#C9961A"><circle cx="225.7" cy="420.4" r="4.2"/><circle cx="318.3" cy="633.8" r="4.2"/><circle cx="411.5" cy="660.0" r="4.2"/><circle cx="504.4" cy="585.7" r="4.2"/><circle cx="597.0" cy="585.7" r="4.2"/></g>
</g></svg>
<div class="a" style="top:373.86px;font-size:20.6px;line-height:24px;color:#111;left:71.80px;width:100px;text-align:right;">100%</div>
<div class="a" style="top:465.86px;font-size:20.6px;line-height:24px;color:#111;left:71.80px;width:100px;text-align:right;">80%</div>
<div class="a" style="top:570.66px;font-size:20.6px;line-height:24px;color:#111;left:71.80px;width:100px;text-align:right;">60%</div>
<div class="a" style="top:675.66px;font-size:20.6px;line-height:24px;color:#111;left:71.80px;width:100px;text-align:right;">40%</div>
<div class="a" style="top:780.66px;font-size:20.6px;line-height:24px;color:#111;left:71.80px;width:100px;text-align:right;">20%</div>
<div class="a" style="top:873.66px;font-size:20.6px;line-height:24px;color:#111;left:71.80px;width:100px;text-align:right;">0%</div>
<div class="a" style="top:901.04px;font-size:15.75px;line-height:19px;color:#111;left:155.40px;width:140px;text-align:center;">Graduation</div>
<div class="a" style="top:901.04px;font-size:15.75px;line-height:19px;color:#111;left:248.00px;width:140px;text-align:center;">A-G courses</div>
<div class="a" style="top:901.04px;font-size:15.75px;line-height:19px;color:#111;left:341.30px;width:140px;text-align:center;">Applications</div>
<div class="a" style="top:901.04px;font-size:15.75px;line-height:19px;color:#111;left:434.40px;width:140px;text-align:center;">Admissions</div>
<div class="a" style="top:901.04px;font-size:15.75px;line-height:19px;color:#111;left:527.20px;width:140px;text-align:center;">Enrollment</div>
<div class="a" style="top:919.74px;font-size:15.75px;line-height:19px;color:#111;left:155.40px;width:140px;text-align:center;">rate</div>
<div class="a" style="top:375.76px;font-size:12.8px;line-height:16px;color:#111;left:768.40px;width:190px;text-align:center;">Assembly District 1</div>
<div class="a" style="left:769.10px;top:394.06px;width:191.10px;height:19.86px;background:#d4d7de;"></div>
<div class="a" style="top:395.61px;font-size:12.8px;line-height:16px;color:#111;left:768.40px;width:190px;text-align:center;">Assembly District 2</div>
<div class="a" style="top:415.46px;font-size:12.8px;line-height:16px;color:#111;left:768.40px;width:190px;text-align:center;">Assembly District 3</div>
<div class="a" style="left:769.10px;top:433.78px;width:191.10px;height:19.86px;background:#d4d7de;"></div>
<div class="a" style="top:435.31px;font-size:12.8px;line-height:16px;color:#111;left:768.40px;width:190px;text-align:center;">Assembly District 4</div>
<div class="a" style="top:455.16px;font-size:12.8px;line-height:16px;color:#111;left:768.40px;width:190px;text-align:center;">Assembly District 5</div>
<div class="a" style="left:769.10px;top:473.50px;width:191.10px;height:19.86px;background:#d4d7de;"></div>
<div class="a" style="top:475.01px;font-size:12.8px;line-height:16px;color:#111;left:768.40px;width:190px;text-align:center;">Assembly District 6</div>
<div class="a" style="top:494.86px;font-size:12.8px;line-height:16px;color:#111;left:768.40px;width:190px;text-align:center;">Assembly District 7</div>
<div class="a" style="left:769.10px;top:513.22px;width:191.10px;height:19.86px;background:#d4d7de;"></div>
<div class="a" style="top:514.71px;font-size:12.8px;line-height:16px;color:#111;left:768.40px;width:190px;text-align:center;">Assembly District 8</div>
<div class="a" style="top:534.56px;font-size:12.8px;line-height:16px;color:#111;left:768.40px;width:190px;text-align:center;">Assembly District 9</div>
<div class="a" style="left:769.10px;top:552.94px;width:191.10px;height:19.86px;background:#d4d7de;"></div>
<div class="a" style="top:554.41px;font-size:12.8px;line-height:16px;color:#111;left:768.40px;width:190px;text-align:center;">Assembly District 10</div>
<div class="a" style="top:574.26px;font-size:12.8px;line-height:16px;color:#111;left:768.40px;width:190px;text-align:center;">Assembly District 11</div>
<div class="a" style="left:769.10px;top:592.66px;width:191.10px;height:19.86px;background:#d4d7de;"></div>
<div class="a" style="top:594.11px;font-size:12.8px;line-height:16px;color:#111;left:768.40px;width:190px;text-align:center;">Assembly District 12</div>
<div class="a" style="top:613.96px;font-size:12.8px;line-height:16px;color:#111;left:768.40px;width:190px;text-align:center;">Assembly District 13</div>
<div class="a" style="left:769.10px;top:632.38px;width:191.10px;height:19.86px;background:#d4d7de;"></div>
<div class="a" style="top:633.81px;font-size:12.8px;line-height:16px;color:#111;left:768.40px;width:190px;text-align:center;">Assembly District 14</div>
<div class="a" style="left:769.10px;top:374.00px;width:191.60px;height:1.00px;background:#d4d4d4;"></div>
<div class="a" style="left:962.20px;top:374.00px;width:16.80px;height:278.80px;background:#fff;border:1px solid #bebebe;box-sizing:border-box;"></div>
<div class="a" style="left:962.20px;top:374.00px;width:16.80px;height:49.60px;background:#f0f0f0;border:1px solid #bebebe;box-sizing:border-box;"></div>
<svg class="a" style="left:0;top:0" width="1011" height="1116" viewBox="0 0 1011 1116"><g fill="#606165"><path d="M796.8 671.5 L868.6 671.5 L868.6 736.2 L937.7 800.1 L957.6 818.7 L957.6 820.8 L960.4 825.0 L961.8 830.5 L965.4 833.9 L959.8 841.6 L959.0 849.9 L957.1 854.1 L957.1 858.2 L960.4 860.2 L959.8 863.0 L954.9 865.1 L936.9 867.9 L915.5 869.3 L913.3 866.5 L911.9 861.0 L909.2 856.8 L905.0 852.7 L899.5 847.1 L894.7 845.8 L893.4 841.6 L887.0 840.2 L881.5 836.7 L876.7 833.3 L867.6 832.5 L860.7 831.1 L856.6 827.0 L856.6 819.4 L853.2 813.1 L848.2 808.4 L842.7 802.8 L838.4 795.5 L835.0 790.6 L833.8 783.6 L829.5 777.7 L826.5 770.8 L825.1 763.9 L820.6 759.9 L817.6 755.0 L815.6 750.0 L809.7 743.1 L805.3 737.2 L804.1 729.2 L803.3 723.3 L799.8 716.4 L795.8 709.5 L794.2 705.5 L795.8 699.6 L798.2 692.6 L798.8 684.7 L797.4 678.8 L795.4 674.8Z"/><path d="M858.7 838.4 L861.5 836.7 L867.0 837.4 L873.0 837.4 L877.9 836.3 L880.9 838.6 L878.9 840.8 L873.0 841.2 L868.0 842.4 L864.1 843.0 L860.1 841.0Z"/><ellipse cx="818.0" cy="763.3" rx="2.2" ry="1.6" transform="rotate(30 818.0 763.3)"/><ellipse cx="884.3" cy="850.3" rx="1.6" ry="1.4" transform="rotate(0 884.3 850.3)"/><ellipse cx="876.5" cy="854.9" rx="2.8" ry="1.8" transform="rotate(30 876.5 854.9)"/><ellipse cx="893.9" cy="851.9" rx="3.8" ry="2.2" transform="rotate(40 893.9 851.9)"/><ellipse cx="893.7" cy="861.2" rx="4.2" ry="2.2" transform="rotate(50 893.7 861.2)"/></g></svg>
<div class="a" style="top:864.16px;font-size:9.05px;line-height:12px;color:#808080;left:776.60px;">© Mapbox © OSM</div>
<div class="a" style="top:889.68px;font-size:11.9px;line-height:15px;color:#222;left:769.50px;">Pct. of HS cohort enrolled at UC</div>
<div class="a" style="top:906.74px;font-size:12px;line-height:15px;color:#222;left:739.80px;width:60px;text-align:right;">3.1%</div>
<div class="a" style="top:906.74px;font-size:12px;line-height:15px;color:#222;left:952.30px;">25.3%</div>
<div class="a" style="left:803.40px;top:907.00px;width:145.60px;height:15.00px;background:#d0d0d0;"></div>
<div class="a" style="left:804.00px;top:907.50px;width:24.15px;height:14.00px;background:#C9961A;"></div>
<div class="a" style="left:828.10px;top:907.50px;width:24.15px;height:14.00px;background:#A5AFC2;"></div>
<div class="a" style="left:852.20px;top:907.50px;width:24.15px;height:14.00px;background:#7B8DAC;"></div>
<div class="a" style="left:876.30px;top:907.50px;width:24.15px;height:14.00px;background:#4F6588;"></div>
<div class="a" style="left:900.40px;top:907.50px;width:24.15px;height:14.00px;background:#2F4468;"></div>
<div class="a" style="left:924.50px;top:907.50px;width:24.15px;height:14.00px;background:#1B2A4A;"></div>
<div class="a" style="left:828.60px;top:919.60px;width:1.20px;height:4.20px;background:#333;"></div>
<div class="a" style="top:974.05px;font-size:12.85px;line-height:15px;color:#333;left:26.10px;">District Name</div>
<div class="a" style="top:974.05px;font-size:12.85px;line-height:15px;color:#333;left:185.20px;">School Name</div>
<div class="a" style="top:958.98px;font-size:12.75px;line-height:15px;color:#333;left:302.00px;width:120px;text-align:center;">Full</div>
<div class="a" style="top:973.83px;font-size:12.75px;line-height:15px;color:#333;left:302.00px;width:120px;text-align:center;">Pathway</div>
<div class="a" style="top:988.68px;font-size:12.75px;line-height:15px;color:#333;left:302.00px;width:120px;text-align:center;">Yield</div>
<div class="a" style="top:973.68px;font-size:12.75px;line-height:15px;color:#333;left:374.00px;width:120px;text-align:center;">HS Cohort</div>
<div class="a" style="top:958.98px;font-size:12.75px;line-height:15px;color:#333;left:445.50px;width:120px;text-align:center;">Outreach</div>
<div class="a" style="top:973.83px;font-size:12.75px;line-height:15px;color:#333;left:445.50px;width:120px;text-align:center;">Stud</div>
<div class="a" style="top:988.68px;font-size:12.75px;line-height:15px;color:#333;left:445.50px;width:120px;text-align:center;">Served</div>
<div class="a" style="top:966.68px;font-size:12.75px;line-height:15px;color:#333;left:517.30px;width:120px;text-align:center;">Graduation</div>
<div class="a" style="top:981.53px;font-size:12.75px;line-height:15px;color:#333;left:517.30px;width:120px;text-align:center;">rate</div>
<div class="a" style="top:966.68px;font-size:12.75px;line-height:15px;color:#333;left:589.00px;width:120px;text-align:center;">Graduates</div>
<div class="a" style="top:981.53px;font-size:12.75px;line-height:15px;color:#333;left:589.00px;width:120px;text-align:center;">w/ A-G</div>
<div class="a" style="top:966.68px;font-size:12.75px;line-height:15px;color:#333;left:660.20px;width:120px;text-align:center;">A-G grads</div>
<div class="a" style="top:981.53px;font-size:12.75px;line-height:15px;color:#333;left:660.20px;width:120px;text-align:center;">who apply</div>
<div class="a" style="top:958.98px;font-size:12.75px;line-height:15px;color:#333;left:732.00px;width:120px;text-align:center;">Applicants</div>
<div class="a" style="top:973.83px;font-size:12.75px;line-height:15px;color:#333;left:732.00px;width:120px;text-align:center;">who are</div>
<div class="a" style="top:988.68px;font-size:12.75px;line-height:15px;color:#333;left:732.00px;width:120px;text-align:center;">admitted</div>
<div class="a" style="top:966.68px;font-size:12.75px;line-height:15px;color:#333;left:804.00px;width:120px;text-align:center;">Admitted</div>
<div class="a" style="top:981.53px;font-size:12.75px;line-height:15px;color:#333;left:804.00px;width:120px;text-align:center;">who enroll</div>
<div class="a" style="top:973.68px;font-size:12.75px;line-height:15px;color:#333;left:875.40px;width:120px;text-align:center;">Yield count</div>
<div class="a" style="top:1011.08px;font-size:12.75px;line-height:16px;color:#666;left:185.40px;">Artesia High</div>
<div class="a" style="top:1011.08px;font-size:11.6px;line-height:16px;color:#333;left:321.70px;width:80px;text-align:center;">2.7%</div>
<div class="a" style="top:1011.08px;font-size:11.6px;line-height:16px;color:#333;left:393.00px;width:80px;text-align:center;">333</div>
<div class="a" style="top:1011.08px;font-size:11.6px;line-height:16px;color:#333;left:465.00px;width:80px;text-align:center;">115</div>
<div class="a" style="top:1011.08px;font-size:11.6px;line-height:16px;color:#333;left:537.00px;width:80px;text-align:center;">96.7%</div>
<div class="a" style="top:1011.08px;font-size:11.6px;line-height:16px;color:#333;left:608.70px;width:80px;text-align:center;">40.4%</div>
<div class="a" style="top:1011.08px;font-size:11.6px;line-height:16px;color:#333;left:680.20px;width:80px;text-align:center;">43.1%</div>
<div class="a" style="top:1011.08px;font-size:11.6px;line-height:16px;color:#333;left:751.80px;width:80px;text-align:center;">50.0%</div>
<div class="a" style="top:1011.08px;font-size:11.6px;line-height:16px;color:#333;left:823.80px;width:80px;text-align:center;">32.1%</div>
<div class="a" style="top:1011.08px;font-size:11.6px;line-height:16px;color:#333;left:894.80px;width:80px;text-align:center;">9</div>
<div class="a" style="left:179.20px;top:1029.70px;width:791.80px;height:19.70px;background:#f4f4f4;"></div>
<div class="a" style="top:1031.08px;font-size:12.75px;line-height:16px;color:#666;left:185.40px;">Cerritos High</div>
<div class="a" style="top:1031.08px;font-size:11.6px;line-height:16px;color:#333;left:321.70px;width:80px;text-align:center;">14.9%</div>
<div class="a" style="top:1031.08px;font-size:11.6px;line-height:16px;color:#333;left:393.00px;width:80px;text-align:center;">544</div>
<div class="a" style="top:1031.08px;font-size:11.6px;line-height:16px;color:#333;left:537.00px;width:80px;text-align:center;">96.7%</div>
<div class="a" style="top:1031.08px;font-size:11.6px;line-height:16px;color:#333;left:608.70px;width:80px;text-align:center;">69.2%</div>
<div class="a" style="top:1031.08px;font-size:11.6px;line-height:16px;color:#333;left:680.20px;width:80px;text-align:center;">64.8%</div>
<div class="a" style="top:1031.08px;font-size:11.6px;line-height:16px;color:#333;left:751.80px;width:80px;text-align:center;">62.3%</div>
<div class="a" style="top:1031.08px;font-size:11.6px;line-height:16px;color:#333;left:823.80px;width:80px;text-align:center;">55.1%</div>
<div class="a" style="top:1031.08px;font-size:11.6px;line-height:16px;color:#333;left:894.80px;width:80px;text-align:center;">81</div>
<div class="a" style="top:1050.88px;font-size:12.75px;line-height:16px;color:#666;left:185.40px;">Gahr (Richard) High</div>
<div class="a" style="top:1050.88px;font-size:11.6px;line-height:16px;color:#333;left:321.70px;width:80px;text-align:center;">4.3%</div>
<div class="a" style="top:1050.88px;font-size:11.6px;line-height:16px;color:#333;left:393.00px;width:80px;text-align:center;">509</div>
<div class="a" style="top:1050.88px;font-size:11.6px;line-height:16px;color:#333;left:537.00px;width:80px;text-align:center;">96.3%</div>
<div class="a" style="top:1050.88px;font-size:11.6px;line-height:16px;color:#333;left:608.70px;width:80px;text-align:center;">48.0%</div>
<div class="a" style="top:1050.88px;font-size:11.6px;line-height:16px;color:#333;left:680.20px;width:80px;text-align:center;">40.0%</div>
<div class="a" style="top:1050.88px;font-size:11.6px;line-height:16px;color:#333;left:751.80px;width:80px;text-align:center;">41.5%</div>
<div class="a" style="top:1050.88px;font-size:11.6px;line-height:16px;color:#333;left:823.80px;width:80px;text-align:center;">56.4%</div>
<div class="a" style="top:1050.88px;font-size:11.6px;line-height:16px;color:#333;left:894.80px;width:80px;text-align:center;">22</div>
<div class="a" style="left:179.20px;top:1069.30px;width:791.80px;height:19.90px;background:#f4f4f4;"></div>
<div class="a" style="top:1070.68px;font-size:12.75px;line-height:16px;color:#666;left:185.40px;">Whitney (Gretchen) Hi..</div>
<div class="a" style="top:1070.68px;font-size:11.6px;line-height:16px;color:#333;left:321.70px;width:80px;text-align:center;">29.0%</div>
<div class="a" style="top:1070.68px;font-size:11.6px;line-height:16px;color:#333;left:393.00px;width:80px;text-align:center;">162</div>
<div class="a" style="top:1070.68px;font-size:11.6px;line-height:16px;color:#333;left:537.00px;width:80px;text-align:center;">100.0%</div>
<div class="a" style="top:1070.68px;font-size:11.6px;line-height:16px;color:#333;left:608.70px;width:80px;text-align:center;">96.9%</div>
<div class="a" style="top:1070.68px;font-size:11.6px;line-height:16px;color:#333;left:680.20px;width:80px;text-align:center;">79.0%</div>
<div class="a" style="top:1070.68px;font-size:11.6px;line-height:16px;color:#333;left:751.80px;width:80px;text-align:center;">79.0%</div>
<div class="a" style="top:1070.68px;font-size:11.6px;line-height:16px;color:#333;left:823.80px;width:80px;text-align:center;">48.0%</div>
<div class="a" style="top:1070.68px;font-size:11.6px;line-height:16px;color:#333;left:894.80px;width:80px;text-align:center;">47</div>
<div class="a" style="top:1011.05px;font-size:12.85px;line-height:16px;color:#333;left:26.10px;">ABC Unified</div>
<div class="a" style="left:19.40px;top:1009.00px;width:952.00px;height:1.40px;background:#c9c9c9;"></div>
<div class="a" style="left:19.40px;top:1089.20px;width:953.00px;height:1.50px;background:#cbcbcb;"></div>
<div class="a" style="left:325.80px;top:953.40px;width:1.00px;height:136.00px;background:#dcdcdc;"></div>
<div class="a" style="left:970.80px;top:953.40px;width:1.00px;height:136.00px;background:#dcdcdc;"></div>
<div class="a" style="left:971.00px;top:1009.70px;width:2.40px;height:80.80px;background:#d8d8d8;"></div>
<div class="a" style="left:972.90px;top:1008.70px;width:16.60px;height:82.00px;background:#fff;border:1.5px solid #cfcfcf;border-top-color:#c4c4c4;box-sizing:border-box;"></div>
</body></html>
